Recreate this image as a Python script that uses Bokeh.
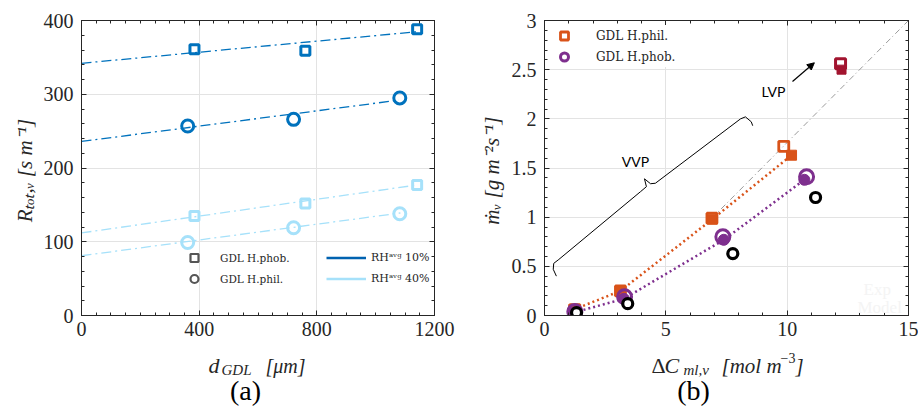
import math
from bokeh.plotting import figure
from bokeh.models import (Range1d, LinearAxis, FixedTicker, Legend, LegendItem,
                          Label, Arrow, NormalHead)
from bokeh.layouts import row, column
from bokeh.embed import file_html
from bokeh.resources import INLINE

# ---------------- Panel (a) data ----------------
d_phob = [384, 761, 1141]
d_phil = [361, 721, 1082]
R_phob_10 = [361, 359, 388]
R_phil_10 = [257, 266, 295]
R_phob_40 = [135, 152, 177]
R_phil_40 = [99, 119, 138]
# trend lines (start / end values)
fit_phob_10_d = [0, 1146]
fit_phob_10_R = [342, 385]
fit_phil_10_d = [0, 1079]
fit_phil_10_R = [236, 292]
fit_phob_40_d = [0, 1141]
fit_phob_40_R = [112, 177]
fit_phil_40_d = [0, 1084]
fit_phil_40_R = [81, 139]
a_xticks = [0, 400, 800, 1200]
a_yticks = [0, 100, 200, 300, 400]
a_ylabel = "R\u209c\u2092\u209c,\u1d65  [s m\u207b\u00b9]"
a_legend_markers = ["GDL H.phob.", "GDL H.phil."]
a_legend_lines = ["RH\u1d43\u1d5b\u1d4d 10%", "RH\u1d43\u1d5b\u1d4d 40%"]

# ---------------- Panel (b) data ----------------
dc_phil_exp = [1.25, 3.13, 6.90, 9.86]
m_phil_exp = [0.06, 0.25, 0.99, 1.72]
dc_phil_mod = [1.21, 3.13, 6.92, 10.18]
m_phil_mod = [0.06, 0.25, 0.98, 1.63]
dc_phob_exp = [1.25, 3.30, 7.35, 10.80]
m_phob_exp = [0.04, 0.19, 0.80, 1.41]
dc_phob_mod = [1.21, 3.27, 7.39, 10.71]
m_phob_mod = [0.03, 0.17, 0.77, 1.38]
dc_black = [1.32, 3.43, 7.76, 11.17]
m_black = [0.03, 0.12, 0.63, 1.20]
dc_lvp_exp = [12.20]
m_lvp_exp = [2.56]
dc_lvp_mod = [12.24]
m_lvp_mod = [2.50]
ref_dc = [6.9, 15.0]
ref_m = [0.99, 3.0]
b_xticks = [0, 5, 10, 15]
b_yticks = [0, 0.5, 1, 1.5, 2, 2.5, 3]
b_ylabel = "\u1e41\u1d65  [g m\u207b\u00b2s\u207b\u00b9]"
b_legend = ["GDL H.phil.", "GDL H.phob."]
# curly brace (VVP) outline, data units
brace_lo_x = [0.49, 0.36, 0.38, 0.59, 3.96, 4.20, 4.12]
brace_lo_y = [0.40, 0.47, 0.53, 0.57, 1.26, 1.31, 1.39]
brace_hi_x = [4.12, 4.37, 4.57, 8.08, 8.28, 8.52, 8.58]
brace_hi_y = [1.39, 1.34, 1.345, 2.00, 2.02, 1.97, 1.93]
lvp_arrow = [10.22, 2.38, 11.12, 2.57]

TXT = "#262626"
SERIF = "Liberation Serif"
BLUE = "#0072BD"
LBLUE = "#A6E1FA"
ORANGE = "#D95319"
PURPLE = "#7E2F8E"
DRED = "#A2142F"
GRID = "#e3e3e3"
NAN2 = [math.nan, math.nan]

ROW_H = 344
W_PA, W_PB = 459, 459
PAGE_W = W_PA + W_PB
BOTTOM_H = 407 - ROW_H


def make_fig(width, height, xr, yr, l, r, t, b):
    return figure(width=width, height=height, x_range=Range1d(*xr), y_range=Range1d(*yr),
                  output_backend="svg", toolbar_location=None,
                  min_border_left=l, min_border_right=r, min_border_top=t, min_border_bottom=b,
                  background_fill_color="white", border_fill_color="white",
                  outline_line_color=TXT)


def strip(w, h):
    s = figure(width=w, height=h, x_range=Range1d(0, w), y_range=Range1d(h, 0),
               output_backend="svg", toolbar_location=None, min_border=0,
               x_axis_type=None, y_axis_type=None, outline_line_color=None,
               background_fill_color="white", border_fill_color="white")
    s.grid.visible = False
    return s


def style_axes(p, xt, xm, yt, ym, ylabel, ylabel_standoff):
    p.add_layout(LinearAxis(), "above")
    p.add_layout(LinearAxis(), "right")
    for ax in p.xaxis:
        ax.ticker = FixedTicker(ticks=xt, minor_ticks=xm)
    for ax in p.yaxis:
        ax.ticker = FixedTicker(ticks=yt, minor_ticks=ym)
    for ax in p.axis:
        ax.axis_line_color = TXT
        ax.major_tick_line_color = TXT
        ax.minor_tick_line_color = TXT
        ax.major_tick_in = 5
        ax.major_tick_out = 0
        ax.minor_tick_in = 3
        ax.minor_tick_out = 0
        ax.major_label_text_font = SERIF
        ax.major_label_text_font_size = "20px"
        ax.major_label_text_color = TXT
    p.above[0].major_label_overrides = {v: "" for v in xt}
    p.right[0].major_label_overrides = {v: "" for v in yt}
    for ax in (p.above[0], p.right[0]):
        ax.major_label_text_font_size = "1px"
        ax.major_label_standoff = 0
    p.below[0].major_label_standoff = 6
    yl = p.left[0]
    yl.major_label_standoff = 8
    yl.axis_label = ylabel
    yl.axis_label_text_font = SERIF
    yl.axis_label_text_font_style = "italic"
    yl.axis_label_text_font_size = "21px"
    yl.axis_label_text_color = TXT
    yl.axis_label_standoff = ylabel_standoff
    p.xgrid.ticker = FixedTicker(ticks=xt)
    p.ygrid.ticker = FixedTicker(ticks=yt)
    p.grid.grid_line_color = GRID
    p.grid.grid_line_width = 1


def put(s, x, y, text, size, style="normal", angle=0.0, align="left",
        baseline="alphabetic", color=TXT, font=SERIF):
    s.add_layout(Label(x=x, y=y, text=text, text_font=font, text_font_size=f"{size}px",
                       text_font_style=style, angle=angle, text_align=align,
                       text_baseline=baseline, text_color=color))


def put_frame(p, geo, px, py, text, size, **kw):
    # position inside a plot frame, given in pixel offsets from the frame's bottom-left
    fl, fb, x0, y0 = geo
    p.add_layout(Label(x=x0, y=y0, x_offset=px - fl, y_offset=fb - py, text=text,
                       text_font=kw.get("font", SERIF), text_font_size=f"{size}px",
                       text_font_style=kw.get("style", "normal"),
                       text_align=kw.get("align", "left"),
                       text_baseline=kw.get("baseline", "alphabetic"),
                       text_color=kw.get("color", TXT)))


# ====================== Panel (a) ======================
pa = make_fig(W_PA, ROW_H, (0, 1200), (0, 400), 81, 25, 18, ROW_H - 315)
style_axes(pa, a_xticks, [i * 50 for i in range(25)], a_yticks, [i * 20 for i in range(21)],
           a_ylabel, 4)

dash_a = "10 4 2 4"
pa.line(fit_phob_10_d, fit_phob_10_R, line_color=BLUE, line_width=1.3, line_dash=dash_a)
pa.line(fit_phil_10_d, fit_phil_10_R, line_color=BLUE, line_width=1.3, line_dash=dash_a)
pa.line(fit_phob_40_d, fit_phob_40_R, line_color=LBLUE, line_width=1.3, line_dash=dash_a)
pa.line(fit_phil_40_d, fit_phil_40_R, line_color=LBLUE, line_width=1.3, line_dash=dash_a)

pa.scatter(d_phob, R_phob_10, marker="square", size=9, fill_color=None, line_color=BLUE, line_width=3)
pa.scatter(d_phil, R_phil_10, marker="circle", size=12, fill_color=None, line_color=BLUE, line_width=3)
pa.scatter(d_phob, R_phob_40, marker="square", size=9, fill_color=None, line_color=LBLUE, line_width=3)
pa.scatter(d_phil, R_phil_40, marker="circle", size=12, fill_color=None, line_color=LBLUE, line_width=3)

lg_sq = pa.scatter(NAN2, NAN2, marker="square", size=9, fill_color=None, line_color="#555555", line_width=2.2)
lg_ci = pa.scatter(NAN2, NAN2, marker="circle", size=12, fill_color=None, line_color="#555555", line_width=2.2)
lg_l1 = pa.line(NAN2, NAN2, line_color="#0062B0", line_width=2.5)
lg_l2 = pa.line(NAN2, NAN2, line_color=LBLUE, line_width=2.5)

leg_a1 = Legend(items=[LegendItem(label=a_legend_markers[0], renderers=[lg_sq]),
                       LegendItem(label=a_legend_markers[1], renderers=[lg_ci])],
                location=(103, 26), padding=0, spacing=0, glyph_width=20, glyph_height=21,
                label_height=21, label_standoff=16, border_line_color=None,
                background_fill_alpha=0, label_text_font="DejaVu Serif",
                label_text_font_size="10.5px", label_text_color=TXT)
leg_a2 = Legend(items=[LegendItem(label=a_legend_lines[0], renderers=[lg_l1]),
                       LegendItem(label=a_legend_lines[1], renderers=[lg_l2])],
                location=(245, 26), padding=0, spacing=0, glyph_width=40, glyph_height=21,
                label_height=21, label_standoff=5, border_line_color=None,
                background_fill_alpha=0, label_text_font="DejaVu Serif",
                label_text_font_size="11px", label_text_color=TXT)
pa.add_layout(leg_a1)
pa.add_layout(leg_a2)

# ====================== Panel (b) ======================
pb = make_fig(W_PB, ROW_H, (0, 15), (0, 3), 85, 10, 20, ROW_H - 315)
style_axes(pb, b_xticks, [i * 1 for i in range(16)], b_yticks, [i * 0.1 for i in range(31)],
           b_ylabel, 5)
geo_b = (544, 315, 0, 0)

pb.line(ref_dc, ref_m, line_color="#9a9a9a", line_width=1, line_dash="6 3 1 3")
pb.line(dc_phil_mod, m_phil_mod, line_color=ORANGE, line_width=2.5, line_dash="2 3")
pb.line(dc_phob_mod, m_phob_mod, line_color=PURPLE, line_width=2.5, line_dash="2 3")

pb.line(brace_lo_x, brace_lo_y, line_color="black", line_width=1)
pb.line(brace_hi_x, brace_hi_y, line_color="black", line_width=1)
pb.add_layout(Arrow(end=NormalHead(size=7, fill_color="black", line_color="black"),
                    x_start=lvp_arrow[0], y_start=lvp_arrow[1], x_end=lvp_arrow[2], y_end=lvp_arrow[3],
                    line_color="black", line_width=1.2))

r_phil = pb.scatter(dc_phil_exp, m_phil_exp, marker="square", size=10, fill_color=None, line_color=ORANGE, line_width=2.8)
pb.scatter(dc_phil_mod, m_phil_mod, marker="square", size=10, fill_color=ORANGE, line_color=ORANGE, line_width=1)
pb.scatter(dc_phob_mod, m_phob_mod, marker="circle", size=11, fill_color=PURPLE, line_color=PURPLE, line_width=1)
r_phob = pb.scatter(dc_phob_exp, m_phob_exp, marker="circle", size=14, fill_color=None, line_color=PURPLE, line_width=3)
pb.scatter(dc_lvp_exp, m_lvp_exp, marker="square", size=10, fill_color=None, line_color=DRED, line_width=3)
pb.scatter(dc_lvp_mod, m_lvp_mod, marker="square", size=9, fill_color=DRED, line_color=DRED, line_width=1)
pb.scatter(dc_black, m_black, marker="circle", size=10, fill_color="white", line_color="black", line_width=3.2)

leg_b = Legend(items=[LegendItem(label=b_legend[0], renderers=[r_phil]),
                      LegendItem(label=b_legend[1], renderers=[r_phob])],
               location=(10, 248), padding=3, spacing=0, glyph_width=20, glyph_height=21,
               label_height=21, label_standoff=22, border_line_color=None,
               background_fill_color="white", background_fill_alpha=1,
               label_text_font="DejaVu Serif", label_text_font_size="12px",
               label_text_color=TXT)
pb.add_layout(leg_b)

put_frame(pb, geo_b, 635, 161, "VVP", 14, align="center", baseline="middle", color="black", font="Lato")
put_frame(pb, geo_b, 773, 91, "LVP", 14, align="center", baseline="middle", color="black", font="Lato")
put_frame(pb, geo_b, 863, 289, "Exp", 17, color="#f4f4f4")
put_frame(pb, geo_b, 857, 307, "Model", 17, color="#f4f4f4")

# ====================== x-axis titles and panel letters ======================
bot = strip(PAGE_W, BOTTOM_H)
oy = ROW_H
put(bot, 208, 365 - oy, "d", 22, "italic")
put(bot, 221, 369 - oy, "GDL", 15, "italic")
put(bot, 265, 365 - oy, "[\u03bcm]", 20, "italic")
put(bot, 651, 365 - oy, "\u0394", 22, "normal")
put(bot, 664, 365 - oy, "C", 22, "italic")
put(bot, 683, 369 - oy, "ml,v", 15, "italic")
put(bot, 721, 365 - oy, "[mol m", 21, "italic")
put(bot, 780, 357 - oy, "\u22123", 14, "normal")
put(bot, 795, 365 - oy, "]", 21, "italic")
put(bot, 245, 390 - oy, "(a)", 28, align="center", color="black")
put(bot, 693, 390 - oy, "(b)", 28, align="center", color="black")

layout = column(row(pa, pb), bot)
open("out.html", "w").write(file_html(layout, INLINE))
